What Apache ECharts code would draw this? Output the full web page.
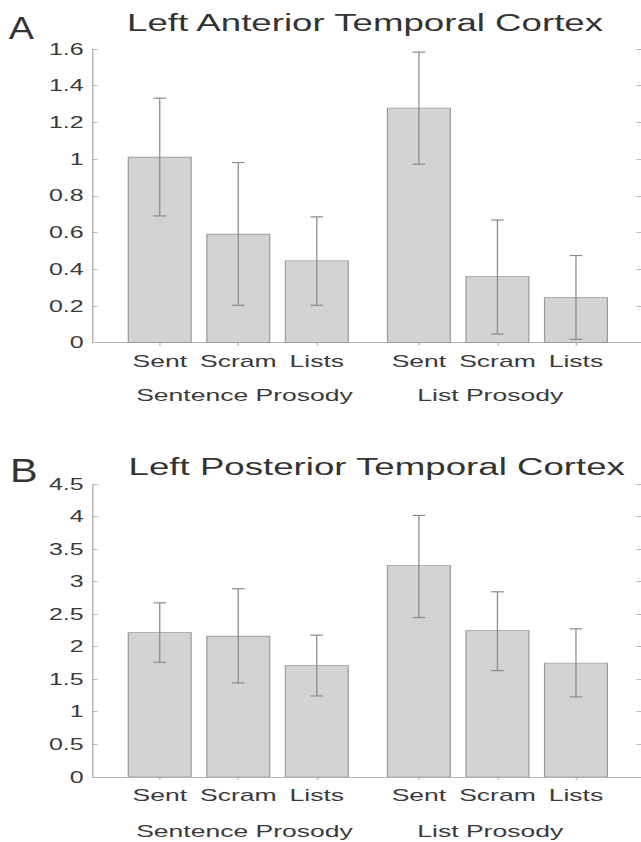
<!DOCTYPE html>
<html>
<head>
<meta charset="utf-8">
<script src="https://cdn.jsdelivr.net/npm/echarts@6/dist/echarts.min.js"></script>
<style>
html,body{margin:0;padding:0;background:#fff;overflow:hidden;width:641px;height:842px;}
#chart{width:411px;height:842px;transform:scaleX(1.56);transform-origin:0 0;}
</style>
</head>
<body>
<div id="chart"></div>
<script>
// ---- data ----
const categories = ['Sent', 'Scram', 'Lists', 'Sent', 'Scram', 'Lists'];
const positions = [1, 2, 3, 4.3, 5.3, 6.3];
const groupLabels = ['Sentence Prosody', 'List Prosody'];
const panelTitles = ['Left Anterior Temporal Cortex', 'Left Posterior Temporal Cortex'];
const panelLetters = ['A', 'B'];

const antMean = [1.01, 0.59, 0.445, 1.278, 0.36, 0.245];
const antLow  = [0.69, 0.203, 0.203, 0.972, 0.046, 0.017];
const antHigh = [1.332, 0.981, 0.685, 1.583, 0.668, 0.474];

const postMean = [2.217, 2.16, 1.709, 3.248, 2.248, 1.746];
const postLow  = [1.76, 1.443, 1.243, 2.448, 1.632, 1.228];
const postHigh = [2.674, 2.89, 2.177, 4.017, 2.843, 2.274];

const antTicks = [0, 0.2, 0.4, 0.6, 0.8, 1, 1.2, 1.4, 1.6];
const postTicks = [0, 0.5, 1, 1.5, 2, 2.5, 3, 3.5, 4, 4.5];

// ---- styles ----
const AXIS = '#b9b9b9';
const TXT = '#3a3a3a';
const FONT = 'Liberation Sans, Arial, sans-serif';
const BAR_FILL = '#d3d3d3';
const BAR_EDGE = '#9c9c9c';
const ERR = '#8a8a8a';

const chart = echarts.init(document.getElementById('chart'), null, {renderer: 'svg', width: 411, height: 842});

const grids = [
  {left: 59.6, top: 49, width: 351.4, height: 293.5},
  {left: 59.6, top: 484, width: 351.4, height: 292.8}
];

function xAxes(gi) {
  return [
    {
      gridIndex: gi, type: 'value', position: 'bottom', min: 0.15, max: 7.13,
      axisLine: {show: true, onZero: false, lineStyle: {color: AXIS, width: 1}},
      axisTick: {show: false},
      splitLine: {show: false},
      axisLabel: {
        customValues: positions, color: TXT, fontSize: 17, fontFamily: FONT, margin: 10,
        formatter: v => categories[positions.indexOf(v)] || ''
      }
    },
    {
      gridIndex: gi, type: 'value', position: 'top', min: 0.15, max: 7.13,
      axisLine: {show: true, lineStyle: {color: AXIS, width: 1}},
      axisTick: {show: true, inside: true, length: 3, customValues: positions, lineStyle: {color: AXIS}},
      splitLine: {show: false},
      axisLabel: {show: false}
    }
  ];
}

function yAxes(gi, ticks) {
  const mn = ticks[0], mx = ticks[ticks.length - 1], iv = ticks[1] - ticks[0];
  return [
    {
      gridIndex: gi, type: 'value', position: 'left', min: mn, max: mx, interval: iv,
      axisLine: {show: true, lineStyle: {color: AXIS, width: 1}},
      axisTick: {show: true, inside: true, length: 3, lineStyle: {color: AXIS}},
      splitLine: {show: false},
      axisLabel: {color: TXT, fontSize: 16, fontFamily: FONT, margin: 6}
    },
    {
      gridIndex: gi, type: 'value', position: 'right', min: mn, max: mx, interval: iv,
      axisLine: {show: true, lineStyle: {color: AXIS, width: 1}},
      axisTick: {show: true, inside: true, length: 3, lineStyle: {color: AXIS}},
      splitLine: {show: false},
      axisLabel: {show: false}
    }
  ];
}

function renderBar(params, api) {
  const x = api.value(0), m = api.value(1), lo = api.value(2), hi = api.value(3);
  const tl = api.coord([x - 0.4, m]);
  const br = api.coord([x + 0.4, 0]);
  const top = api.coord([x, hi]);
  const bot = api.coord([x, lo]);
  const hw = api.size([0.08, 0])[0];
  return {
    type: 'group',
    children: [
      {type: 'rect', shape: {x: tl[0], y: tl[1], width: br[0] - tl[0], height: br[1] - tl[1]},
       style: {fill: BAR_FILL, stroke: BAR_EDGE, lineWidth: 0.8}},
      {type: 'line', shape: {x1: top[0], y1: top[1], x2: bot[0], y2: bot[1]},
       style: {stroke: ERR, lineWidth: 0.8}},
      {type: 'line', shape: {x1: top[0] - hw, y1: top[1], x2: top[0] + hw, y2: top[1]},
       style: {stroke: ERR, lineWidth: 1.2}},
      {type: 'line', shape: {x1: bot[0] - hw, y1: bot[1], x2: bot[0] + hw, y2: bot[1]},
       style: {stroke: ERR, lineWidth: 1.2}}
    ]
  };
}

function seriesData(mean, low, high) {
  return positions.map((p, i) => [p, mean[i], low[i], high[i]]);
}

const textStyle = (text, size, align) => ({
  text: text, fill: '#333', font: size + 'px ' + FONT, textAlign: align, textVerticalAlign: 'middle'
});

const option = {
  animation: false,
  backgroundColor: '#fff',
  grid: grids,
  xAxis: [...xAxes(0), ...xAxes(1)],
  yAxis: [...yAxes(0, antTicks), ...yAxes(1, postTicks)],
  series: [
    {type: 'custom', xAxisIndex: 0, yAxisIndex: 0, renderItem: renderBar,
     data: seriesData(antMean, antLow, antHigh), encode: {x: 0, y: [1, 2, 3]}, clip: false},
    {type: 'custom', xAxisIndex: 2, yAxisIndex: 2, renderItem: renderBar,
     data: seriesData(postMean, postLow, postHigh), encode: {x: 0, y: [1, 2, 3]}, clip: false}
  ],
  graphic: [
    {type: 'text', x: 234, y: 23.4, style: textStyle(panelTitles[0], 23.5, 'center')},
    {type: 'text', x: 241.5, y: 466.7, style: textStyle(panelTitles[1], 23.5, 'center')},
    {type: 'text', x: 5.6, y: 28, scaleX: 0.78, style: textStyle(panelLetters[0], 31, 'left')},
    {type: 'text', x: 6.4, y: 470, scaleX: 0.78, style: textStyle(panelLetters[1], 34, 'left')},
    {type: 'text', x: 87.3, y: 395.5, style: Object.assign(textStyle(groupLabels[0], 17, 'left'), {fill: TXT})},
    {type: 'text', x: 267.5, y: 395.5, style: Object.assign(textStyle(groupLabels[1], 17, 'left'), {fill: TXT})},
    {type: 'text', x: 87.3, y: 831, style: Object.assign(textStyle(groupLabels[0], 17, 'left'), {fill: TXT})},
    {type: 'text', x: 267.5, y: 831, style: Object.assign(textStyle(groupLabels[1], 17, 'left'), {fill: TXT})}
  ]
};
chart.setOption(option);
</script>
</body>
</html>
